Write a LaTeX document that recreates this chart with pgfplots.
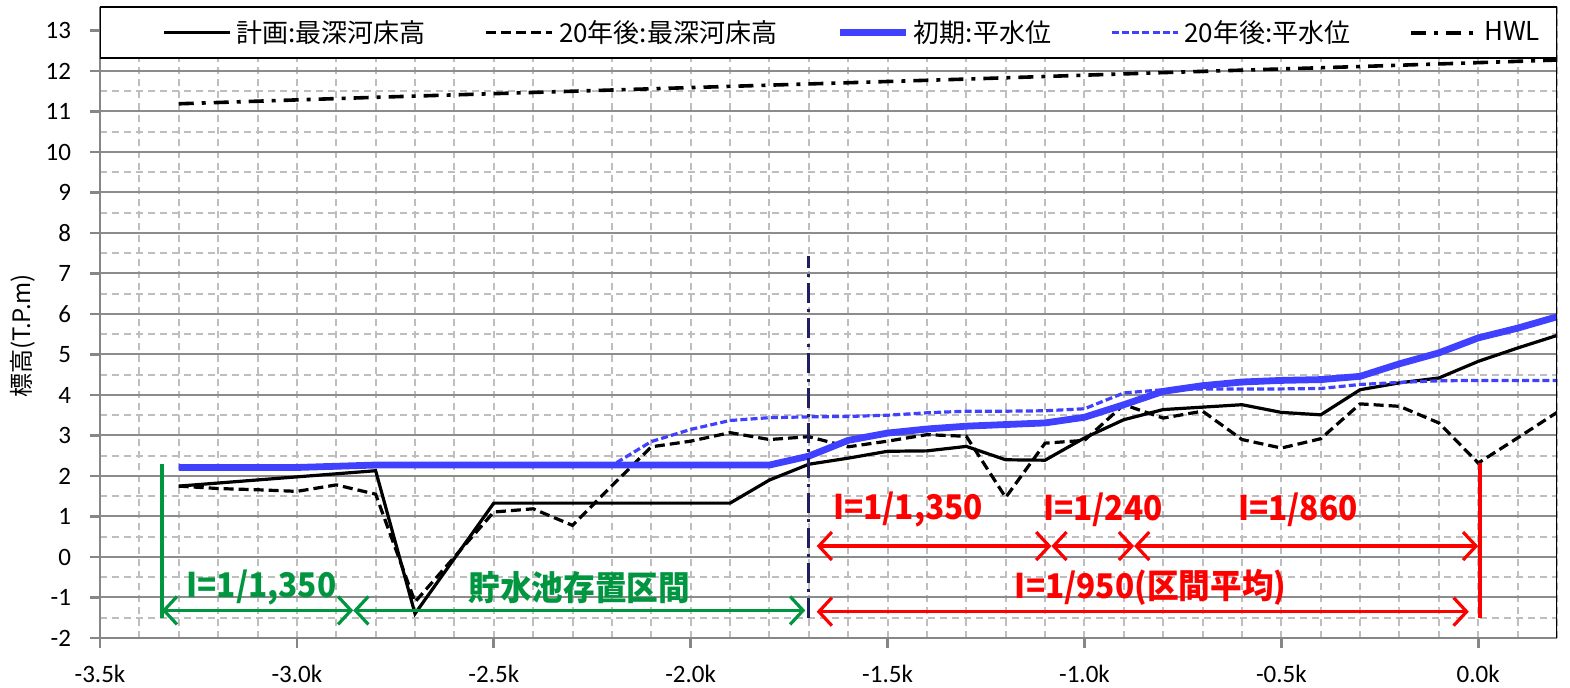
\documentclass[border=0pt]{standalone}
\usepackage{fontspec}
\setmainfont{Carlito}
\newfontfamily\jp{Noto Sans CJK JP}
\usepackage{graphicx}
\usepackage{pgfplots}
\pgfplotsset{compat=1.18}
\usetikzlibrary{arrows.meta}
\definecolor{serblue}{RGB}{64,64,255}
\definecolor{annred}{RGB}{255,0,0}
\definecolor{anngreen}{RGB}{0,150,64}
\definecolor{navy}{RGB}{31,31,95}
\definecolor{gridmaj}{RGB}{140,140,140}
\definecolor{gridlt}{RGB}{190,190,190}
\definecolor{axgray}{RGB}{134,134,134}
\newcommand{\ann}[1]{\scalebox{0.93}[1]{#1}}
\begin{document}
\begin{tikzpicture}
\path[use as bounding box] (-50pt,-25pt) rectangle (735pt,319pt);
\begin{axis}[
  scale only axis, width=728.5pt, height=315.5pt,
  xmin=-3.5, xmax=0.2, ymin=-2, ymax=13.58,
  xtick={-3.5,-3,-2.5,-2,-1.5,-1,-0.5,0},
  xticklabels={-3.5k,-3.0k,-2.5k,-2.0k,-1.5k,-1.0k,-0.5k,0.0k},
  ytick={-2,-1,0,1,2,3,4,5,6,7,8,9,10,11,12,13},
  yticklabels={-2,-1,0,1,2,3,4,5,6,7,8,9,10,11,12,13},
  minor xtick={-3.4,-3.3,...,0.25},
  minor ytick={-1.5,-0.5,...,12.6},
  grid=both,
  major x grid style={draw=gridlt, line width=1pt, dash pattern=on 3.5pt off 2.5pt},
  minor x grid style={draw=gridlt, line width=1pt, dash pattern=on 3.5pt off 2.5pt},
  major y grid style={draw=gridmaj, line width=1pt},
  minor y grid style={draw=gridlt, line width=1pt, dash pattern=on 3.5pt off 2.5pt},
  axis x line*=bottom, axis y line*=left,
  axis line style={draw=axgray, line width=1.3pt, -},
  major tick style={draw=axgray, line width=1.3pt},
  major tick length=5pt, minor tick length=0pt,
  tick align=outside,
  tick label style={font=\fontsize{12.5pt}{14pt}\selectfont},
  xticklabel style={yshift=-5pt},
  yticklabel style={xshift=-6pt},
  ylabel={\jp 標高(T.P.m)},
  ylabel style={at={(axis description cs:-0.0529,0.479)}, anchor=center, font=\fontsize{12pt}{14pt}\selectfont},
  legend style={at={(axis description cs:0.0426,0.959)}, anchor=west, draw=none, fill=none,
    inner sep=0pt, font=\jp\fontsize{13pt}{15pt}\selectfont,
    /tikz/every even column/.append style={column sep=27pt},
    nodes={inner sep=0pt, inner xsep=2.5pt}},
  legend columns=5,
  legend image code/.code={\draw[#1] (0pt,0pt) -- (33pt,0pt);},
]
% legend frame (covers the grid in the top band)
\draw[black, line width=1.2pt, fill=white] (rel axis cs:0,1) rectangle (rel axis cs:1,0.919);

% 計画:最深河床高
\addplot[black, line width=1.6pt] table {
x y
-3.3 1.75
-2.8 2.13
-2.7 -1.40
-2.5 1.33
-1.9 1.33
-1.8 1.90
-1.7 2.29
-1.6 2.44
-1.5 2.61
-1.4 2.62
-1.3 2.73
-1.2 2.40
-1.1 2.39
-1.0 2.94
-0.9 3.39
-0.8 3.64
-0.7 3.70
-0.6 3.76
-0.5 3.57
-0.4 3.51
-0.3 4.13
-0.2 4.30
-0.1 4.42
0.0 4.83
0.1 5.16
0.2 5.47
};
\addlegendentry{計画:最深河床高}

% 20年後:最深河床高
\addplot[black, line width=1.6pt, dash pattern=on 5pt off 2.5pt] table {
x y
-3.3 1.75
-3.2 1.69
-3.1 1.66
-3.0 1.62
-2.9 1.78
-2.8 1.55
-2.7 -1.11
-2.5 1.11
-2.4 1.19
-2.3 0.78
-2.2 1.76
-2.1 2.72
-2.0 2.86
-1.9 3.07
-1.8 2.90
-1.7 2.97
-1.6 2.72
-1.5 2.86
-1.4 3.02
-1.3 2.98
-1.2 1.47
-1.1 2.81
-1.0 2.88
-0.9 3.76
-0.8 3.43
-0.7 3.60
-0.6 2.90
-0.5 2.69
-0.4 2.92
-0.3 3.78
-0.2 3.72
-0.1 3.31
0.0 2.32
0.1 2.94
0.2 3.57
};
\addlegendentry{20年後:最深河床高}

% 初期:平水位
\addplot[serblue, line width=3.4pt] table {
x y
-3.3 2.21
-3.0 2.21
-2.8 2.27
-1.8 2.27
-1.7 2.49
-1.6 2.88
-1.5 3.06
-1.4 3.16
-1.3 3.23
-1.2 3.27
-1.1 3.31
-1.0 3.45
-0.9 3.76
-0.8 4.09
-0.7 4.23
-0.6 4.32
-0.5 4.36
-0.4 4.38
-0.3 4.46
-0.2 4.77
-0.1 5.04
0.0 5.41
0.1 5.65
0.2 5.93
};
\addlegendentry{初期:平水位}

% 20年後:平水位
\addplot[serblue, line width=1.6pt, dash pattern=on 3.5pt off 1.6pt] table {
x y
-3.3 2.21
-3.0 2.21
-2.8 2.26
-2.2 2.26
-2.1 2.85
-2.0 3.15
-1.9 3.37
-1.8 3.44
-1.7 3.46
-1.6 3.47
-1.5 3.50
-1.4 3.56
-1.3 3.60
-1.2 3.60
-1.1 3.61
-1.0 3.66
-0.9 4.05
-0.8 4.13
-0.7 4.15
-0.6 4.15
-0.5 4.15
-0.4 4.16
-0.3 4.26
-0.2 4.31
-0.1 4.35
0.0 4.36
0.1 4.36
0.2 4.36
};
\addlegendentry{20年後:平水位}

% HWL
\addplot[black, line width=1.8pt, dash pattern=on 7.5pt off 4pt on 2pt off 4pt] table {
x y
-3.3 11.19
-2.8 11.35
-2.3 11.50
-1.8 11.65
-1.3 11.80
-0.8 11.96
-0.3 12.11
0.2 12.27
};
\addlegendentry{HWL}

% right border of the plot area
\draw[black, line width=1.2pt] (rel axis cs:1,0) -- (rel axis cs:1,1);

% section divider
\draw[navy, line width=1.5pt, dash pattern=on 10pt off 3pt on 1.5pt off 3pt] (axis cs:-1.7,-1.51) -- (axis cs:-1.7,7.43);

% green annotations
\draw[anngreen, line width=2pt] (axis cs:-3.343,-1.5) -- (axis cs:-3.343,2.3);
\draw[anngreen, line width=1.6pt, {Straight Barb[length=6.5pt,width=14pt]}-{Straight Barb[length=6.5pt,width=14pt]}] (axis cs:-3.343,-1.32) -- (axis cs:-2.857,-1.32);
\draw[anngreen, line width=1.6pt, {Straight Barb[length=6.5pt,width=14pt]}-{Straight Barb[length=6.5pt,width=14pt]}] (axis cs:-2.857,-1.32) -- (axis cs:-1.709,-1.32);
\node[anngreen, font=\jp\bfseries\fontsize{17pt}{19pt}\selectfont] at (axis cs:-3.090,-0.75) {\ann{I=1/1,350}};
\node[anngreen, font=\jp\bfseries\fontsize{17pt}{19pt}\selectfont] at (axis cs:-2.283,-0.75) {\ann{貯水池存置区間}};

% red annotations
\draw[annred, line width=2pt] (axis cs:0.004,-1.51) -- (axis cs:0.004,2.31);
\draw[annred, line width=1.6pt, {Straight Barb[length=6.5pt,width=14pt]}-{Straight Barb[length=6.5pt,width=14pt]}] (axis cs:-1.68,0.27) -- (axis cs:-1.084,0.27);
\draw[annred, line width=1.6pt, {Straight Barb[length=6.5pt,width=14pt]}-{Straight Barb[length=6.5pt,width=14pt]}] (axis cs:-1.084,0.27) -- (axis cs:-0.874,0.27);
\draw[annred, line width=1.6pt, {Straight Barb[length=6.5pt,width=14pt]}-{Straight Barb[length=6.5pt,width=14pt]}] (axis cs:-0.874,0.27) -- (axis cs:0.0,0.27);
\draw[annred, line width=1.6pt, {Straight Barb[length=6.5pt,width=14pt]}-{Straight Barb[length=6.5pt,width=14pt]}] (axis cs:-1.68,-1.35) -- (axis cs:-0.024,-1.35);
\node[annred, font=\jp\bfseries\fontsize{17pt}{19pt}\selectfont] at (axis cs:-1.448,1.17) {\ann{I=1/1,350}};
\node[annred, font=\jp\bfseries\fontsize{17pt}{19pt}\selectfont] at (axis cs:-0.953,1.17) {\ann{I=1/240}};
\node[annred, font=\jp\bfseries\fontsize{17pt}{19pt}\selectfont] at (axis cs:-0.458,1.17) {\ann{I=1/860}};
\node[annred, font=\jp\bfseries\fontsize{17pt}{19pt}\selectfont] at (axis cs:-0.832,-0.75) {\ann{I=1/950(区間平均)}};
\end{axis}
\end{tikzpicture}
\end{document}
